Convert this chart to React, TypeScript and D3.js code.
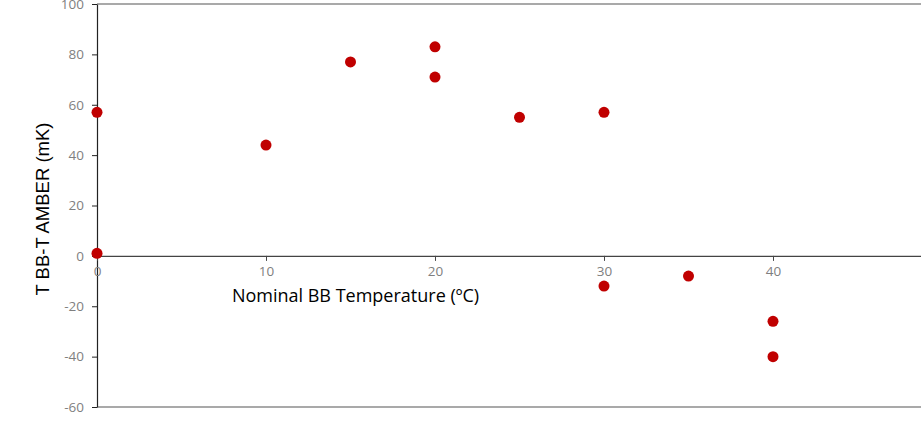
import React, { useEffect, useRef } from "react";
import * as d3 from "d3";

const xValues = [0, 0, 10, 15, 20, 20, 25, 30, 30, 35, 40, 40];
const yValues = [57, 1, 44, 77, 83, 71, 55, 57, -12, -8, -26, -40];
const xTicks = [0, 10, 20, 30, 40];
const yTicks = [-60, -40, -20, 0, 20, 40, 60, 80, 100];
const xTitle = "Nominal BB Temperature (ºC)";
const yTitle = "T BB-T AMBER (mK)";

const W = 921;
const H = 421;

export default function App() {
  const ref = useRef<SVGSVGElement>(null);
  useEffect(() => {
    document.body.style.margin = "0";
    const svg = d3.select(ref.current);
    svg.selectAll("*").remove();
    const x = d3.scaleLinear().domain([0, 50]).range([97, 942]);
    const y = d3.scaleLinear().domain([-60, 100]).range([407, 4]);
    const fmt = (d: any) => String(d);

    svg.append("line").attr("x1", 97).attr("x2", W).attr("y1", y(100)).attr("y2", y(100))
      .attr("stroke", "#8c8c8c").attr("stroke-width", 1.5);
    svg.append("line").attr("x1", 97).attr("x2", W).attr("y1", y(-60)).attr("y2", y(-60))
      .attr("stroke", "#8c8c8c").attr("stroke-width", 1.5);

    const yAxis = d3.axisLeft(y).tickValues(yTicks).tickFormat(fmt).tickSize(5).tickPadding(8).tickSizeOuter(0);
    const gy = svg.append("g").attr("transform", `translate(${x(0)},0)`).call(yAxis);
    gy.select(".domain").attr("stroke", "#222").attr("stroke-width", 1.2);
    gy.selectAll(".tick line").attr("stroke", "#222");
    gy.selectAll(".tick text").attr("fill", "#7f7f7f").attr("font-size", 13.5)
      .attr("font-family", "Open Sans, sans-serif");

    const xAxis = d3.axisBottom(x).tickValues(xTicks).tickFormat(fmt).tickSize(5).tickPadding(6).tickSizeOuter(0);
    const gx = svg.append("g").attr("transform", `translate(0,${y(0)})`).call(xAxis);
    gx.select(".domain").attr("stroke", "#444").attr("stroke-width", 1.2);
    gx.selectAll(".tick line").attr("stroke", "#444");
    gx.selectAll(".tick text").attr("fill", "#7f7f7f").attr("font-size", 13.5)
      .attr("font-family", "Open Sans, sans-serif");

    svg.append("g").selectAll("circle").data(xValues.map((v, i) => [v, yValues[i]]))
      .join("circle")
      .attr("cx", (d) => x(d[0]))
      .attr("cy", (d) => y(d[1]))
      .attr("r", 5.5)
      .attr("fill", "#c00000");

    svg.append("text").attr("x", 355.5).attr("y", 302).attr("text-anchor", "middle")
      .attr("font-size", 18).attr("font-family", "Open Sans, sans-serif").attr("fill", "#000")
      .text(xTitle);
    svg.append("text").attr("transform", `translate(49,209) rotate(-90)`).attr("text-anchor", "middle")
      .attr("font-size", 18.5).attr("font-family", "Liberation Sans, Arial, sans-serif").attr("fill", "#000")
      .text(yTitle);
  }, []);
  return (
    <svg ref={ref} width={W} height={H} style={{ display: "block", position: "absolute", left: 0, top: 0, overflow: "hidden", background: "#fff" }} />
  );
}
